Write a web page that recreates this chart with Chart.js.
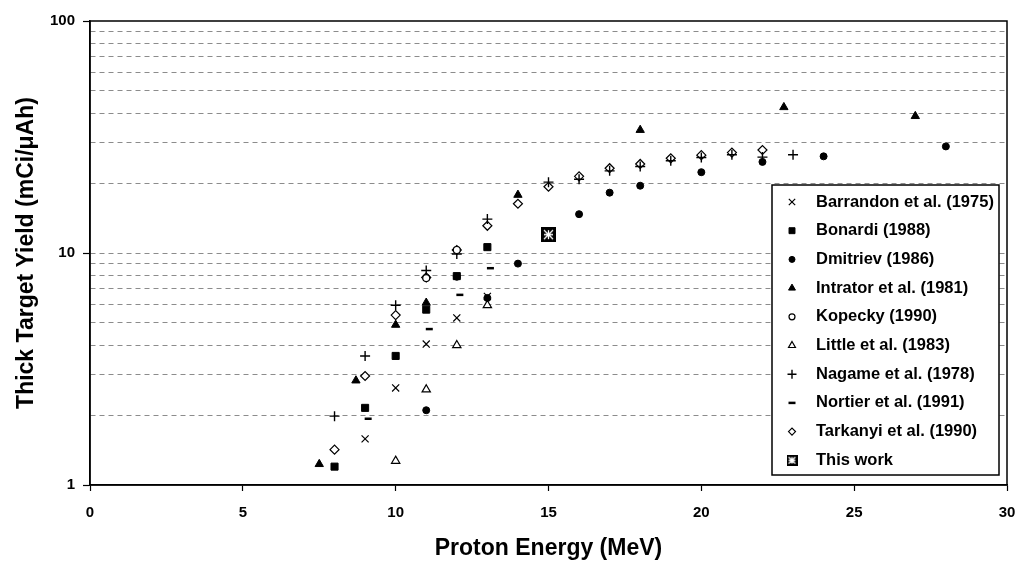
<!DOCTYPE html>
<html>
<head>
<meta charset="utf-8">
<title>Thick Target Yield</title>
<script src="https://cdn.jsdelivr.net/npm/chart.js@4.4.1/dist/chart.umd.min.js"></script>
<style>
	body { margin: 0; background: #fff; }
</style>
</head>
<body>
<canvas id="chart" width="1016" height="562"></canvas>
<script>
// axis ticks
var xTicks = [0, 5, 10, 15, 20, 25, 30];
var yTicks = [1, 2, 3, 4, 5, 6, 7, 8, 9, 10, 20, 30, 40, 50, 60, 70, 80, 90, 100];
var yLabels = [1, 10, 100];

// series (energy in MeV, yield in mCi/uAh)
var barrandonX = [9, 10, 11, 12, 13];
var barrandonY = [1.58, 2.62, 4.05, 5.25, 6.5];
var bonardiX = [8, 9, 10, 11, 12, 13];
var bonardiY = [1.2, 2.15, 3.6, 5.7, 7.95, 10.6];
var dmitrievX = [11, 12, 13, 14, 16, 17, 18, 20, 22, 24, 28];
var dmitrievY = [2.1, 7.9, 6.4, 9.0, 14.7, 18.2, 19.5, 22.3, 24.7, 26.1, 28.8];
var intratorX = [7.5, 8.7, 10, 11, 14, 18, 22.7, 27];
var intratorY = [1.23, 2.82, 4.9, 6.1, 17.8, 33.9, 42.5, 38.9];
var kopeckyX = [11, 12];
var kopeckyY = [7.8, 10.3];
var littleX = [10, 11, 12, 13];
var littleY = [1.27, 2.58, 4.0, 5.95];
var nagameX = [8, 9, 10, 11, 12, 13, 15, 16, 17, 18, 19, 20, 21, 22, 23];
var nagameY = [1.98, 3.6, 5.95, 8.4, 9.9, 14.0, 20.2, 20.8, 22.6, 23.6, 25.0, 25.8, 26.5, 25.9, 26.5];
var nortierX = [9.1, 11.1, 12.1, 13.1];
var nortierY = [1.93, 4.7, 6.6, 8.6];
var tarkanyiX = [8, 9, 10, 11, 12, 13, 14, 15, 16, 17, 18, 19, 20, 21, 22];
var tarkanyiY = [1.42, 2.95, 5.4, 7.85, 10.3, 13.1, 16.3, 19.3, 21.4, 23.2, 24.2, 25.6, 26.4, 27.1, 27.8];
var thisWorkX = [15];
var thisWorkY = [12];

var FONT = "'Liberation Sans', Arial, sans-serif";

function pts(xs, ys) {
	return xs.map(function (x, i) { return {x: x, y: ys[i]}; });
}

// black square with a white star, for "This work"
function starBox(size) {
	var c = document.createElement('canvas');
	c.width = size; c.height = size;
	var g = c.getContext('2d');
	g.fillStyle = '#000';
	g.fillRect(0, 0, size, size);
	g.strokeStyle = '#fff';
	g.lineWidth = 1.3;
	var m = size / 2, r = size * 0.3;
	g.beginPath();
	g.moveTo(m, m - r); g.lineTo(m, m + r);
	g.moveTo(m - r, m - r); g.lineTo(m + r, m + r);
	g.moveTo(m + r, m - r); g.lineTo(m - r, m + r);
	g.moveTo(m - r, m); g.lineTo(m + r, m);
	g.stroke();
	return c;
}
var bigStar = starBox(15);
var smallStar = starBox(11);

function serie(label, xs, ys, style, radius, width, fill, legendRadius) {
	return {
		label: label,
		data: pts(xs, ys),
		pointStyle: style,
		pointRadius: radius,
		pointBorderWidth: width,
		pointBackgroundColor: fill,
		pointBorderColor: '#000',
		legendRadius: legendRadius
	};
}

var datasets = [
	serie('Barrandon et al. (1975)', barrandonX, barrandonY, 'crossRot', 5, 1.2, '#000', 4.5),
	serie('Bonardi (1988)', bonardiX, bonardiY, 'rect', 5, 1, '#000', 4.2),
	serie('Dmitriev (1986)', dmitrievX, dmitrievY, 'circle', 3.5, 1, '#000', 3),
	serie('Intrator et al. (1981)', intratorX, intratorY, 'triangle', 4.8, 1, '#000', 4),
	serie('Kopecky (1990)', kopeckyX, kopeckyY, 'circle', 3.5, 1.2, '#fff', 3),
	serie('Little et al. (1983)', littleX, littleY, 'triangle', 4.8, 1.2, '#fff', 4),
	serie('Nagame et al. (1978)', nagameX, nagameY, 'cross', 5, 1.4, '#000', 4.5),
	serie('Nortier et al. (1991)', nortierX, nortierY, 'line', 3.5, 2.5, '#000', 3.5),
	serie('Tarkanyi et al. (1990)', tarkanyiX, tarkanyiY, 'rectRot', 4.5, 1.2, '#fff', 3.5),
	serie('This work', thisWorkX, thisWorkY, bigStar, 7.5, 1, '#000', 5.5)
];

// frame round the plot and the boxed legend inside it
var framePlugin = {
	id: 'frame',
	beforeDatasetsDraw: function (chart) {
		var a = chart.chartArea, ctx = chart.ctx;
		ctx.save();
		ctx.strokeStyle = '#000';
		ctx.lineWidth = 1.5;
		ctx.strokeRect(a.left, a.top, a.right - a.left, a.bottom - a.top);
		ctx.restore();
	},
	afterDatasetsDraw: function (chart) {
		var ctx = chart.ctx;
		var bx = 772, by = 185, bw = 227, bh = 290;
		ctx.save();
		ctx.fillStyle = '#fff';
		ctx.fillRect(bx, by, bw, bh);
		ctx.strokeStyle = '#000';
		ctx.lineWidth = 1.5;
		ctx.strokeRect(bx, by, bw, bh);
		ctx.font = 'bold 16.5px ' + FONT;
		ctx.textBaseline = 'middle';
		chart.data.datasets.forEach(function (ds, i) {
			var y = 202 + i * 28.7;
			if (ds.pointStyle === bigStar) {
				ctx.drawImage(smallStar, 792 - 5.5, y - 5.5);
			} else {
				ctx.fillStyle = ds.pointBackgroundColor;
				ctx.strokeStyle = '#000';
				ctx.lineWidth = ds.pointBorderWidth;
				Chart.helpers.drawPoint(ctx, {
					pointStyle: ds.pointStyle, rotation: 0,
					radius: ds.legendRadius, borderWidth: ds.pointBorderWidth
				}, 792, y);
			}
			ctx.fillStyle = '#000';
			ctx.fillText(ds.label, 816, y);
		});
		ctx.restore();
	}
};

var chart = new Chart(document.getElementById('chart').getContext('2d'), {
	type: 'scatter',
	data: { datasets: datasets },
	options: {
		responsive: false,
		animation: false,
		layout: { padding: { top: 21, right: 0, left: 0, bottom: 0 } },
		plugins: {
			legend: { display: false },
			tooltip: { enabled: false }
		},
		scales: {
			x: {
				type: 'linear',
				min: 0,
				max: 30,
				afterBuildTicks: function (s) { s.ticks = xTicks.map(function (v) { return {value: v}; }); },
				afterFit: function (s) { s.height = 77; s.paddingLeft = 0; s.paddingRight = 9; },
				ticks: { color: '#000', padding: 13, font: { family: FONT, size: 15, weight: 'bold' } },
				grid: { drawOnChartArea: false, tickLength: 6, color: '#000', tickWidth: 1.2 },
				border: { color: '#000', width: 1.5 },
				title: {
					display: true,
					text: 'Proton Energy (MeV)',
					color: '#000',
					padding: { top: 0, bottom: 0 },
					font: { family: FONT, size: 23, weight: 'bold' }
				}
			},
			y: {
				type: 'logarithmic',
				min: 1,
				max: 100,
				afterBuildTicks: function (s) { s.ticks = yTicks.map(function (v) { return {value: v}; }); },
				afterFit: function (s) { s.width = 90; },
				ticks: {
					autoSkip: false,
					color: '#000',
					padding: 8,
					font: { family: FONT, size: 15, weight: 'bold' },
					callback: function (v) { return yLabels.indexOf(v) >= 0 ? String(v) : ''; }
				},
				grid: {
					tickLength: 7,
					tickWidth: 1.2,
					color: function (c) { return c.tick && (c.tick.value === 1 || c.tick.value === 100) ? 'rgba(0,0,0,0)' : '#8c8c8c'; },
					tickColor: function (c) { return c.tick && yLabels.indexOf(c.tick.value) >= 0 ? '#000' : 'rgba(0,0,0,0)'; }
				},
				border: { color: '#000', width: 1.5, dash: [5, 4] },
				title: {
					display: true,
					text: 'Thick Target Yield (mCi/\u03bcAh)',
					color: '#000',
					padding: { top: 13, bottom: 0 },
					font: { family: FONT, size: 23, weight: 'bold' }
				}
			}
		}
	},
	plugins: [framePlugin]
});
</script>
</body>
</html>
